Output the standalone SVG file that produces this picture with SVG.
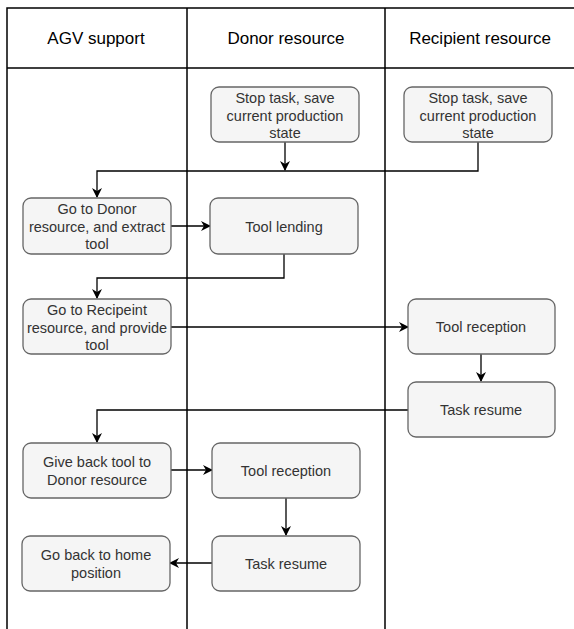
<svg xmlns="http://www.w3.org/2000/svg" width="574" height="629" viewBox="0 0 574 629">
  <style>
    .lane { stroke: #000; stroke-width: 1.5; fill: none; }
    .head { font-family: "Liberation Sans", Arial, sans-serif; font-size: 17px; fill: #000; text-anchor: middle; }
    .box { fill: #f5f5f5; stroke: #666; stroke-width: 1.3; }
    .txt { font-family: "Liberation Sans", Arial, sans-serif; font-size: 14.5px; fill: #333; text-anchor: middle; }
    .edge { stroke: #000; stroke-width: 1.3; fill: none; }
  </style>
  <defs>
    <marker id="arrow" viewBox="0 0 10 10" refX="9" refY="5" markerWidth="10" markerHeight="10" markerUnits="userSpaceOnUse" orient="auto">
      <path d="M0,0 L10,5 L0,10 L3,5 Z" fill="#000"/>
    </marker>
  </defs>
  <rect width="574" height="629" fill="#fff"/>

  <!-- swimlanes -->
  <g id="lanes">
    <path class="lane" d="M7,629 V8 H574 M7,68 H574 M187,8 V629 M385,8 V629"/>
    <text class="head" x="96" y="44">AGV support</text>
    <text class="head" x="286" y="44">Donor resource</text>
    <text class="head" x="480" y="44">Recipient resource</text>
  </g>

  <!-- connectors -->
  <g id="connectors">
    <path class="edge" d="M285,142 V170" marker-end="url(#arrow)"/>
    <path class="edge" d="M478,142 V171 H97 V197" marker-end="url(#arrow)"/>
    <path class="edge" d="M171,226 H210" marker-end="url(#arrow)"/>
    <path class="edge" d="M284,254 V278 H97 V298" marker-end="url(#arrow)"/>
    <path class="edge" d="M171,327 H408" marker-end="url(#arrow)"/>
    <path class="edge" d="M481,354 V381" marker-end="url(#arrow)"/>
    <path class="edge" d="M408,410 H97 V442" marker-end="url(#arrow)"/>
    <path class="edge" d="M171,470 H212" marker-end="url(#arrow)"/>
    <path class="edge" d="M286,498 V535" marker-end="url(#arrow)"/>
    <path class="edge" d="M212,563 H170" marker-end="url(#arrow)"/>
  </g>

  <g id="donor-stop">
    <rect class="box" x="211" y="87" width="148" height="55" rx="8"/>
    <text class="txt" x="285" y="103">Stop task, save</text>
    <text class="txt" x="285" y="120.5">current production</text>
    <text class="txt" x="285" y="138">state</text>
  </g>
  <g id="recipient-stop">
    <rect class="box" x="404" y="87" width="148" height="55" rx="8"/>
    <text class="txt" x="478" y="103">Stop task, save</text>
    <text class="txt" x="478" y="120.5">current production</text>
    <text class="txt" x="478" y="138">state</text>
  </g>
  <g id="agv-extract">
    <rect class="box" x="23" y="198" width="148" height="56" rx="8"/>
    <text class="txt" x="97" y="214">Go to Donor</text>
    <text class="txt" x="97" y="231.5">resource, and extract</text>
    <text class="txt" x="97" y="249">tool</text>
  </g>
  <g id="tool-lending">
    <rect class="box" x="210" y="198" width="148" height="56" rx="8"/>
    <text class="txt" x="284" y="231.5">Tool lending</text>
  </g>
  <g id="agv-provide">
    <rect class="box" x="23" y="299" width="148" height="55" rx="8"/>
    <text class="txt" x="97" y="315">Go to Recipeint</text>
    <text class="txt" x="97" y="332.5">resource, and provide</text>
    <text class="txt" x="97" y="350">tool</text>
  </g>
  <g id="recipient-reception">
    <rect class="box" x="408" y="299" width="147" height="55" rx="8"/>
    <text class="txt" x="481" y="332">Tool reception</text>
  </g>
  <g id="recipient-resume">
    <rect class="box" x="408" y="382" width="147" height="55" rx="8"/>
    <text class="txt" x="481" y="415">Task resume</text>
  </g>
  <g id="agv-give-back">
    <rect class="box" x="23" y="443" width="148" height="55" rx="8"/>
    <text class="txt" x="97" y="467">Give back tool to</text>
    <text class="txt" x="97" y="484.5">Donor resource</text>
  </g>
  <g id="donor-reception">
    <rect class="box" x="212" y="443" width="148" height="55" rx="8"/>
    <text class="txt" x="286" y="475.5">Tool reception</text>
  </g>
  <g id="donor-resume">
    <rect class="box" x="212" y="536" width="148" height="55" rx="8"/>
    <text class="txt" x="286" y="568.5">Task resume</text>
  </g>
  <g id="agv-home">
    <rect class="box" x="22" y="536" width="148" height="55" rx="8"/>
    <text class="txt" x="96" y="560">Go back to home</text>
    <text class="txt" x="96" y="577.5">position</text>
  </g>
</svg>
